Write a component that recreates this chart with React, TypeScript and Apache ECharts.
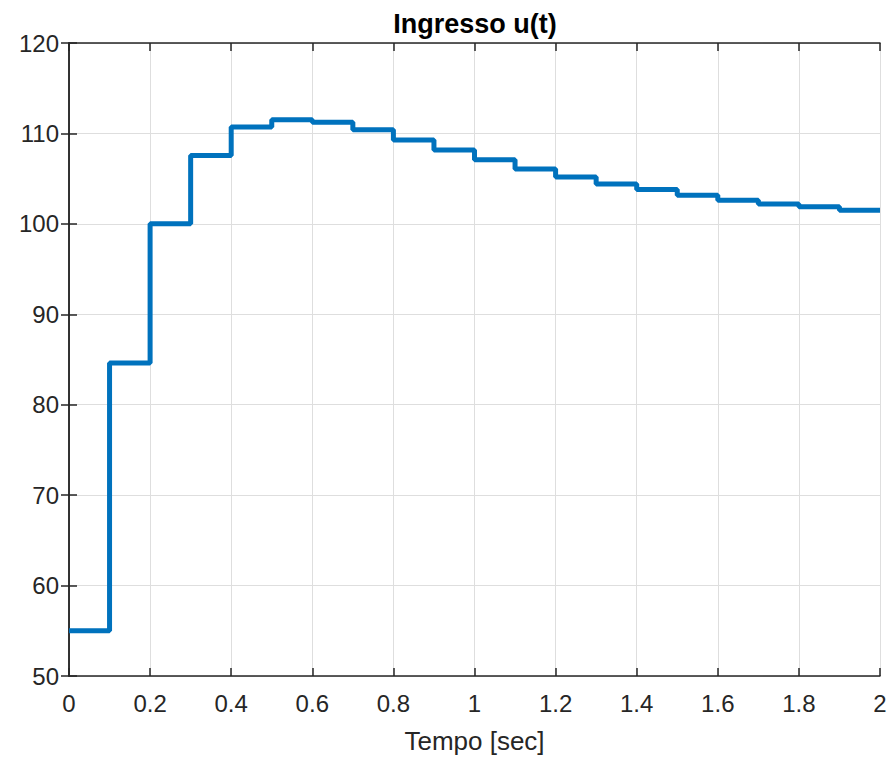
import React, { useEffect, useRef } from "react";
import * as echarts from "echarts";

const times = [0, 0.1, 0.2, 0.3, 0.4, 0.5, 0.6, 0.7, 0.8, 0.9, 1.0, 1.1, 1.2, 1.3, 1.4, 1.5, 1.6, 1.7, 1.8, 1.9, 2.0];
const values = [55, 84.6, 100, 107.55, 110.7, 111.5, 111.25, 110.4, 109.27, 108.17, 107.08, 106.06, 105.19, 104.42, 103.8, 103.15, 102.6, 102.2, 101.9, 101.5, 101.5];
const titleText = "Ingresso u(t)";
const xLabel = "Tempo [sec]";

const FONT = "'Liberation Sans', Arial, Helvetica, sans-serif";
const TXT = "#262626";

export default function App() {
  const ref = useRef<HTMLDivElement>(null);
  useEffect(() => {
    if (!ref.current) return;
    const chart = echarts.init(ref.current, undefined, { renderer: "svg" });
    const data = times.map((t, i) => [t, values[i]]);
    const axisCommon = {
      axisLine: { show: true, lineStyle: { color: TXT, width: 1.5 } },
      axisTick: { show: true, inside: true, length: 8, lineStyle: { color: TXT, width: 1.5 } },
    };
    chart.setOption({
      animation: false,
      backgroundColor: "#ffffff",
      title: {
        text: titleText,
        left: 475,
        textAlign: "center",
        top: 10,
        padding: 0,
        textStyle: { fontFamily: FONT, fontWeight: "bold", fontSize: 27, lineHeight: 27, color: "#000" },
      },
      grid: { left: 69, right: 16, top: 43, bottom: 77, containLabel: false },
      xAxis: [
        {
          type: "value",
          min: 0,
          max: 2,
          interval: 0.2,
          name: xLabel,
          nameLocation: "middle",
          nameGap: 52,
          nameTextStyle: { fontFamily: FONT, fontSize: 26, color: TXT },
          ...axisCommon,
          axisLabel: { fontFamily: FONT, fontSize: 24, color: TXT, margin: 15 },
          splitLine: { show: true, lineStyle: { color: "#dedede", width: 1 } },
        },
        {
          type: "value",
          position: "top",
          min: 0,
          max: 2,
          interval: 0.2,
          ...axisCommon,
          axisLabel: { show: false },
          splitLine: { show: false },
        },
      ],
      yAxis: [
        {
          type: "value",
          min: 50,
          max: 120,
          interval: 10,
          ...axisCommon,
          axisLabel: { fontFamily: FONT, fontSize: 24, color: TXT, margin: 10 },
          splitLine: { show: true, lineStyle: { color: "#dedede", width: 1 } },
        },
        {
          type: "value",
          position: "right",
          min: 50,
          max: 120,
          interval: 10,
          ...axisCommon,
          axisLabel: { show: false },
          splitLine: { show: false },
        },
      ],
      series: [
        {
          type: "line",
          step: "end",
          data,
          showSymbol: false,
          lineStyle: { color: "#0072BD", width: 5 },
          clip: true,
        },
      ],
    });
    return () => chart.dispose();
  }, []);
  return <div ref={ref} style={{ position: "absolute", left: 0, top: 0, width: 896, height: 759 }} />;
}
